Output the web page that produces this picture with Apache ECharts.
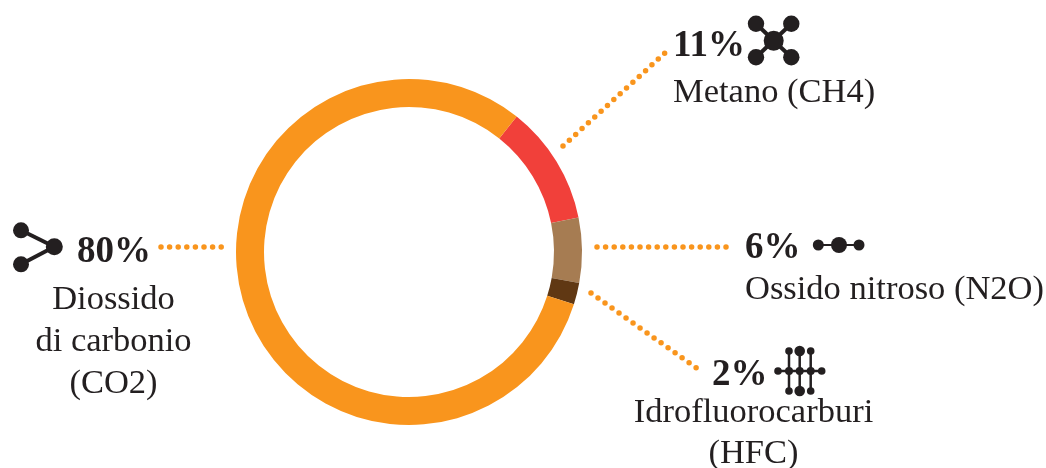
<!DOCTYPE html>
<html><head><meta charset="utf-8">
<style>html,body{margin:0;padding:0;background:#fff}#c{width:1046px;height:468px}</style>
<script src="https://cdn.jsdelivr.net/npm/echarts@6/dist/echarts.min.js"></script>
</head><body><div id="c"></div>
<script>
const categories = ['Metano (CH4)', 'Ossido nitroso (N2O)', 'Idrofluorocarburi\n(HFC)', 'Diossido\ndi carbonio\n(CO2)'];
const values = [11, 6, 2, 80];
const colors = ['#F1403A', '#A67C52', '#603813', '#F9951D'];
const INK = '#231F20', DOT = '#F9951D', FONT = '"Liberation Serif", serif';

const pctPos = [[673, 46], [745, 248], [712, 375], [77, 252]];
const namePos = [[673, 93, 'left', 0], [745, 290, 'left', 0], [753.5, 433, 'center', 41], [113.5, 342, 'center', 42]];
const leaders = [[563, 146, 666, 52], [597, 247, 731, 247], [591, 293, 702, 372], [161, 247, 224, 247]];

const g = [];
leaders.forEach(l => g.push({type:'line', silent:true, shape:{x1:l[0],y1:l[1],x2:l[2],y2:l[3]},
  style:{stroke:DOT, lineWidth:5.5, lineCap:'round', lineDash:[0,8.6], fill:null}}));
values.forEach((v,i) => {
  g.push({type:'text', silent:true, x:pctPos[i][0], y:pctPos[i][1], style:{text:v+'%', fill:INK, font:'bold 37px '+FONT, textAlign:'left', textVerticalAlign:'middle'}});
  const n = namePos[i];
  g.push({type:'text', silent:true, x:n[0], y:n[1], style:{text:categories[i], fill:INK, font:'34.5px '+FONT, textAlign:n[2], textVerticalAlign:'middle', lineHeight:n[3]||40}});
});
const dot = (x,y,r) => g.push({type:'circle', silent:true, shape:{cx:x,cy:y,r:r}, style:{fill:INK}});
const bond = (a,b,c,d,w) => g.push({type:'line', silent:true, shape:{x1:a,y1:b,x2:c,y2:d}, style:{stroke:INK, lineWidth:w}});
// CH4
bond(756,23.7,791.3,57.3,4); bond(791.3,23.7,756,57.3,4);
dot(773.7,40.7,10); dot(756,23.7,8.2); dot(791.3,23.7,8.2); dot(756,57.3,8.2); dot(791.3,57.3,8.2);
// CO2
bond(21,230.3,54.3,246.7,4); bond(21,264.3,54.3,246.7,4);
dot(21,230.3,8); dot(21,264.3,8); dot(54.3,246.7,8.5);
// N2O
bond(818,245,859,245,2);
dot(818.3,245,5.5); dot(839,245,8); dot(859,245,5.5);
// HFC
bond(778,371,822,371,2.5); [789,799.7,810.7].forEach(x => bond(x,351,x,391,2.5));
[[789,351,3.8],[799.7,351,5.3],[810.7,351,3.8],[778,371,3.8],[789,371,4],[799.7,371,4],[810.7,371,4],[821.7,371,3.8],[789,391,3.8],[799.7,391,5.3],[810.7,391,3.8]]
  .forEach(d => dot(d[0],d[1],d[2]));

const chart = echarts.init(document.getElementById('c'), null, {renderer:'canvas'});
chart.setOption({
  animation:false, backgroundColor:'#fff',
  series:[{type:'pie', silent:true, center:[409,252], radius:[145,173], startAngle:51.5, clockwise:true,
    label:{show:false}, labelLine:{show:false},
    data:categories.map((c,i)=>({name:c, value:values[i], itemStyle:{color:colors[i]}}))}],
  graphic:{elements:g}
});
</script></body></html>
